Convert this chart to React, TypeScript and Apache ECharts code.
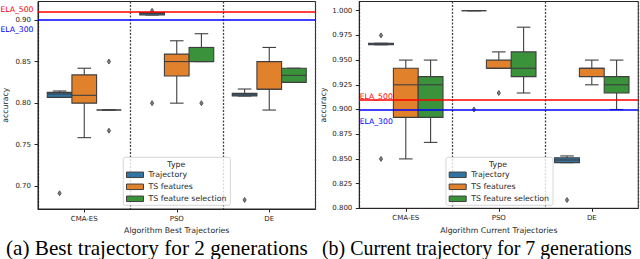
import React, { useEffect, useRef } from 'react';
import * as echarts from 'echarts';

// ---------- data ----------
const categories = ['CMA-ES', 'PSO', 'DE'];
const hueNames = ['Trajectory', 'TS features', 'TS feature selection'];
const hueColors = ['#3274a1', '#e1812c', '#3a923a'];

// each box: [min, q1, median, q3, max] for CMA-ES, PSO, DE
const bestTrajectory = [
  [0.807, 0.807, 0.811, 0.813, 0.8146],
  [0.906, 0.906, 0.908, 0.909, 0.909],
  [0.8086, 0.8086, 0.81, 0.8118, 0.817],
];
const bestTsFeatures = [
  [0.7585, 0.8, 0.8094, 0.834, 0.842],
  [0.8, 0.8327, 0.85, 0.859, 0.875],
  [0.7917, 0.8167, 0.8167, 0.85, 0.867],
];
const bestTsSelection = [
  [0.7918, 0.7918, 0.7918, 0.7918, 0.7918],
  [0.85, 0.85, 0.867, 0.867, 0.8835],
  [0.825, 0.825, 0.8334, 0.842, 0.842],
];
// outliers: [categoryIndex, hueIndex, value]
const bestOutliers = [
  [0, 0, 0.6916],
  [1, 0, 0.8],
  [1, 0, 0.911],
  [2, 0, 0.6836],
  [0, 2, 0.85],
  [0, 2, 0.7669],
  [1, 2, 0.8],
];

const curTrajectory = [
  [0.9655, 0.9655, 0.9663, 0.967, 0.967],
  [1.0, 1.0, 1.0, 1.0, 1.0],
  [0.8462, 0.8462, 0.8489, 0.8512, 0.853],
];
const curTsFeatures = [
  [0.85, 0.892, 0.925, 0.9417, 0.95],
  [0.9417, 0.9417, 0.9417, 0.95, 0.9583],
  [0.925, 0.9333, 0.9417, 0.9417, 0.95],
];
const curTsSelection = [
  [0.8667, 0.892, 0.925, 0.9333, 0.95],
  [0.9167, 0.9333, 0.9417, 0.9583, 0.9833],
  [0.9, 0.9167, 0.925, 0.9333, 0.95],
];
const curOutliers = [
  [0, 0, 0.975],
  [0, 0, 0.85],
  [1, 0, 0.9],
  [2, 0, 0.8084],
  [1, 1, 0.9167],
];

const ela500 = 0.908;
const ela300 = 0.9;

const bestTicks = [0.7, 0.75, 0.8, 0.85, 0.9];
const curTicks = [0.8, 0.825, 0.85, 0.875, 0.9, 0.925, 0.95, 0.975, 1.0];

const captionA = '(a) Best trajectory for 2 generations';
const captionB = '(b) Current trajectory for 7 generations';

// ---------- styling ----------
const FONT = 'DejaVu Sans';
const DARK = '#262626';
const EDGE = '#3f3f3f';

function boxRenderer(hue: number) {
  return (params: any, api: any) => {
    const ci = api.value(0);
    const mn = api.value(1), q1 = api.value(2), md = api.value(3), q3 = api.value(4), mx = api.value(5);
    const band = api.size([1, 0])[0];
    const w = (band * 0.8) / 3;
    const xc = api.coord([ci, md])[0] + (hue - 1) * w;
    const y = (v: number) => api.coord([ci, v])[1];
    const cap = 6.8;
    const ls = { stroke: EDGE, lineWidth: 1.1 };
    return {
      type: 'group',
      children: [
        { type: 'line', shape: { x1: xc, y1: y(q3), x2: xc, y2: y(mx) }, style: ls },
        { type: 'line', shape: { x1: xc, y1: y(q1), x2: xc, y2: y(mn) }, style: ls },
        { type: 'line', shape: { x1: xc - cap, y1: y(mx), x2: xc + cap, y2: y(mx) }, style: ls },
        { type: 'line', shape: { x1: xc - cap, y1: y(mn), x2: xc + cap, y2: y(mn) }, style: ls },
        {
          type: 'rect',
          shape: { x: xc - w / 2, y: y(q3), width: w, height: y(q1) - y(q3) },
          style: { fill: hueColors[hue], stroke: EDGE, lineWidth: 1.1 },
        },
        { type: 'line', shape: { x1: xc - w / 2, y1: y(md), x2: xc + w / 2, y2: y(md) }, style: ls },
      ],
    };
  };
}

function outlierRenderer(params: any, api: any) {
  const ci = api.value(0);
  const hue = api.value(1);
  const v = api.value(2);
  const band = api.size([1, 0])[0];
  const w = (band * 0.8) / 3;
  const p = api.coord([ci, v]);
  const xc = p[0] + (hue - 1) * w;
  const yc = p[1];
  return {
    type: 'polygon',
    shape: { points: [[xc, yc - 2.5], [xc + 1.6, yc], [xc, yc + 2.5], [xc - 1.6, yc]] },
    style: { fill: '#808080', stroke: EDGE, lineWidth: 0.8 },
  };
}

function buildSeries(gi: number, boxes: number[][][], outliers: number[][]) {
  const series: any[] = boxes.map((b, h) => ({
    type: 'custom',
    name: hueNames[h],
    xAxisIndex: gi,
    yAxisIndex: gi,
    itemStyle: { color: hueColors[h], borderColor: EDGE, borderWidth: 1 },
    encode: { x: 0, y: [1, 2, 3, 4, 5] },
    data: b.map((row, i) => [i, ...row]),
    renderItem: boxRenderer(h),
    z: 2,
  }));
  series.push({
    type: 'custom',
    name: 'outliers' + gi,
    xAxisIndex: gi,
    yAxisIndex: gi,
    encode: { x: 0, y: 2 },
    data: outliers,
    renderItem: outlierRenderer,
    z: 3,
  });
  series.push({
    type: 'line',
    name: 'ela' + gi,
    xAxisIndex: gi,
    yAxisIndex: gi,
    data: [],
    markLine: {
      silent: true,
      symbol: 'none',
      label: { show: false },
      lineStyle: { type: 'solid', width: 1.5 },
      data: [
        { yAxis: ela500, lineStyle: { color: '#ff0000', type: 'solid', width: 1.5 } },
        { yAxis: ela300, lineStyle: { color: '#0000ff', type: 'solid', width: 1.5 } },
      ],
    },
    z: 5,
  });
  return series;
}

function xAxis(gi: number, name: string) {
  return {
    type: 'category',
    gridIndex: gi,
    data: categories,
    name,
    nameLocation: 'middle',
    nameGap: 15,
    nameTextStyle: { fontSize: 7.8, color: DARK, fontFamily: FONT },
    axisLine: { show: true, lineStyle: { color: DARK, width: 1 } },
    axisTick: { show: true, alignWithLabel: true, length: 3.5, lineStyle: { color: DARK } },
    axisLabel: { fontSize: 7, color: DARK, margin: 6, fontFamily: FONT },
    splitLine: { show: true, interval: 0, lineStyle: { color: '#444', type: [2, 1.5], width: 1.3 } },
  };
}

function yAxis(gi: number, min: number, max: number, ticks: number[], digits: number, gap: number) {
  return {
    type: 'value',
    gridIndex: gi,
    min,
    max,
    name: 'accuracy',
    nameLocation: 'middle',
    nameGap: gap,
    nameTextStyle: { fontSize: 7.8, color: DARK, fontFamily: FONT },
    axisLine: { show: true, lineStyle: { color: DARK, width: 1 } },
    axisTick: { show: true, length: 3.5, lineStyle: { color: DARK }, customValues: ticks },
    axisLabel: {
      fontSize: 7,
      color: DARK,
      margin: 7,
      fontFamily: FONT,
      customValues: ticks,
      formatter: (v: number) => v.toFixed(digits),
    },
    splitLine: { show: false },
  };
}

function legend(left: number) {
  return {
    show: true,
    left,
    top: 157.3,
    orient: 'vertical',
    data: hueNames.map((n) => ({ name: n, icon: 'rect' })),
    selectedMode: false,
    itemWidth: 17,
    itemHeight: 5.5,
    itemGap: 0,
    padding: [11.5, 4, 0.5, 2.7],
    backgroundColor: 'rgba(255,255,255,0.8)',
    borderColor: '#cccccc',
    borderWidth: 0.8,
    borderRadius: 2,
    itemStyle: { borderColor: EDGE, borderWidth: 1 },
    textStyle: { fontSize: 7.8, color: DARK, fontFamily: FONT, lineHeight: 12 },
    z: 20,
  };
}

export default function App() {
  const ref = useRef<HTMLDivElement>(null);
  useEffect(() => {
    if (!ref.current) return;
    const chart = echarts.init(ref.current, undefined, { renderer: 'svg' });
    const smallText = (x: number, y: number, text: string, fill: string, align: string) => ({
      type: 'text',
      x,
      y,
      z: 100,
      style: { text, fill, fontSize: 7.7, fontFamily: FONT, align, verticalAlign: 'middle' },
    });
    chart.setOption({
      animation: false,
      textStyle: { fontFamily: FONT },
      grid: [
        { left: 37.3, right: 324.5, top: 1.5, bottom: 50, show: true, borderColor: DARK, borderWidth: 1, backgroundColor: 'transparent' },
        { left: 359.3, right: 1.7, top: 1.5, bottom: 50.7, show: true, borderColor: DARK, borderWidth: 1, backgroundColor: 'transparent' },
      ],
      xAxis: [xAxis(0, 'Algorithm Best Trajectories'), xAxis(1, 'Algorithm Current Trajectories')],
      yAxis: [
        yAxis(0, 0.6727, 0.92225, bestTicks, 2, 29),
        yAxis(1, 0.8, 1.0093, curTicks, 3, 32),
      ],
      legend: [legend(123.3), legend(446)],
      series: [
        ...buildSeries(0, [bestTrajectory, bestTsFeatures, bestTsSelection], bestOutliers),
        ...buildSeries(1, [curTrajectory, curTsFeatures, curTsSelection], curOutliers),
      ],
      graphic: [
        smallText(33.5, 9, 'ELA_500', '#ff0000', 'right'),
        smallText(33.5, 29.3, 'ELA_300', '#0000ff', 'right'),
        smallText(359.7, 96.7, 'ELA_500', '#ff0000', 'left'),
        smallText(359.7, 121.7, 'ELA_300', '#0000ff', 'left'),
        { type: 'text', x: 176.3, y: 164.3, z: 100, style: { text: 'Type', fill: DARK, fontSize: 7.8, fontFamily: FONT, align: 'center', verticalAlign: 'middle' } },
        { type: 'text', x: 498, y: 164.3, z: 100, style: { text: 'Type', fill: DARK, fontSize: 7.8, fontFamily: FONT, align: 'center', verticalAlign: 'middle' } },
        { type: 'text', x: 6, y: 247.5, z: 100, style: { text: captionA, fill: '#000', fontSize: 21.2, fontFamily: 'Liberation Serif', align: 'left', verticalAlign: 'middle' } },
        { type: 'text', x: 322, y: 247.5, z: 100, style: { text: captionB, fill: '#000', fontSize: 19.9, fontFamily: 'Liberation Serif', align: 'left', verticalAlign: 'middle' } },
      ],
    });
    return () => chart.dispose();
  }, []);
  return (
    <div
      ref={ref}
      style={{ position: 'fixed', left: 0, top: 0, width: 640, height: 259, background: '#fff' }}
    />
  );
}
